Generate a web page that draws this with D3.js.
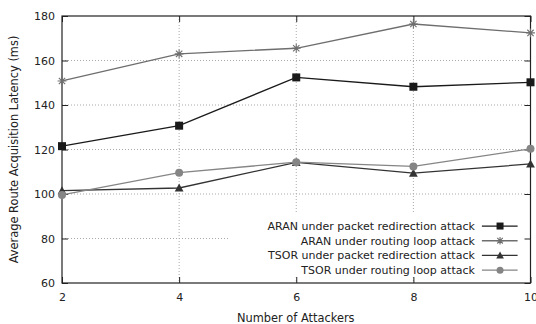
<!DOCTYPE html>
<html>
<head>
<meta charset="utf-8">
<script src="https://cdn.jsdelivr.net/npm/d3@7"></script>
<style>
  body { margin: 0; background: #fff; }
  text { font-family: "DejaVu Sans", sans-serif; fill: #222; }
</style>
</head>
<body>
<svg id="chart" width="536" height="324"></svg>
<script>
// data
var attackers = [2, 4, 6, 8, 10];
var aranPacket = [121.5, 130.7, 152.4, 148.2, 150.2];
var aranLoop = [150.8, 163, 165.5, 176.4, 172.4];
var tsorPacket = [101.5, 102.7, 114.2, 109.4, 113.5];
var tsorLoop = [99.6, 109.6, 114.3, 112.4, 120.3];
var yTicks = [60, 80, 100, 120, 140, 160, 180];

var seriesNames = [
  'ARAN under packet redirection attack',
  'ARAN under routing loop attack',
  'TSOR under packet redirection attack',
  'TSOR under routing loop attack'
];

var series = [
  { name: seriesNames[0], values: aranPacket, color: '#1a1a1a', marker: 'square' },
  { name: seriesNames[1], values: aranLoop, color: '#6e6e6e', marker: 'star' },
  { name: seriesNames[2], values: tsorPacket, color: '#333333', marker: 'triangle' },
  { name: seriesNames[3], values: tsorLoop, color: '#858585', marker: 'circle' }
];

var svg = d3.select('#chart');
var margin = {top: 16, right: 5.5, bottom: 41, left: 62};
var width = 536 - margin.left - margin.right,
    height = 324 - margin.top - margin.bottom;

var g = svg.append('g')
    .attr('transform', 'translate(' + margin.left + ',' + margin.top + ')');

var x = d3.scaleLinear().domain([2, 10]).range([0, width]);
var y = d3.scaleLinear().domain([60, 180]).range([height, 0]);

// grid
g.append('g').selectAll('line.vg')
  .data(attackers.slice(1, -1))
  .enter().append('line')
  .attr('x1', d => x(d)).attr('x2', d => x(d))
  .attr('y1', 0).attr('y2', height)
  .attr('stroke', '#aaa').attr('stroke-width', 1)
  .attr('stroke-dasharray', '1,2');

g.append('g').selectAll('line.hg')
  .data(yTicks.slice(1, -1))
  .enter().append('line')
  .attr('x1', 0).attr('x2', width)
  .attr('y1', d => y(d)).attr('y2', d => y(d))
  .attr('stroke', '#aaa').attr('stroke-width', 1)
  .attr('stroke-dasharray', '1,2');

// legend background hides grid
var legX = x(4.86), legY = y(91.5);
g.append('rect')
  .attr('x', legX).attr('y', legY)
  .attr('width', width - legX).attr('height', y(63) - legY)
  .attr('fill', '#fff');

// axes (ticks inward, mirrored)
function styleAxis(sel) {
  sel.select('.domain').remove();
  sel.selectAll('line').attr('stroke', '#222');
  sel.selectAll('text').style('font-size', '11px').attr('fill', '#222');
}

g.append('g')
  .attr('transform', 'translate(0,' + height + ')')
  .call(d3.axisBottom(x).tickValues(attackers).tickSizeInner(-6).tickPadding(10))
  .call(styleAxis);

g.append('g')
  .call(d3.axisTop(x).tickValues(attackers).tickSizeInner(-6).tickFormat(''))
  .call(styleAxis);

g.append('g')
  .call(d3.axisLeft(y).tickValues(yTicks).tickSizeInner(-6).tickPadding(7))
  .call(styleAxis);

g.append('g')
  .attr('transform', 'translate(' + width + ',0)')
  .call(d3.axisRight(y).tickValues(yTicks).tickSizeInner(-6).tickFormat(''))
  .call(styleAxis);

// frame
g.append('rect')
  .attr('width', width).attr('height', height)
  .attr('fill', 'none').attr('stroke', '#222').attr('stroke-width', 1.2);

// markers
function drawMarker(sel, type, color, s) {
  if (type === 'square') {
    sel.append('rect').attr('x', -s / 2).attr('y', -s / 2).attr('width', s).attr('height', s)
      .attr('fill', color);
  } else if (type === 'circle') {
    sel.append('circle').attr('r', s / 2).attr('fill', color);
  } else if (type === 'triangle') {
    sel.append('path')
      .attr('d', 'M0,' + (-s * 0.55) + 'L' + (s * 0.55) + ',' + (s * 0.45) + 'L' + (-s * 0.55) + ',' + (s * 0.45) + 'Z')
      .attr('fill', color);
  } else {
    var r = s * 0.55, q = r * 0.72;
    sel.append('path')
      .attr('d', 'M' + (-r) + ',0L' + r + ',0M0,' + (-r) + 'L0,' + r +
        'M' + (-q) + ',' + (-q) + 'L' + q + ',' + q + 'M' + (-q) + ',' + q + 'L' + q + ',' + (-q))
      .attr('stroke', color).attr('stroke-width', 1.1).attr('fill', 'none');
  }
}

var line = d3.line()
  .x((d, i) => x(attackers[i]))
  .y(d => y(d));

series.forEach(function(s) {
  g.append('path')
    .datum(s.values)
    .attr('d', line)
    .attr('fill', 'none')
    .attr('stroke', s.color)
    .attr('stroke-width', 1.3);

  g.selectAll(null)
    .data(s.values)
    .enter().append('g')
    .attr('transform', (d, i) => 'translate(' + x(attackers[i]) + ',' + y(d) + ')')
    .each(function() { drawMarker(d3.select(this), s.marker, s.color, 8); });
});

// legend
var legend = g.append('g');
series.forEach(function(s, i) {
  var ly = y(85.6) + i * 14.7;
  var row = legend.append('g').attr('transform', 'translate(0,' + ly + ')');
  row.append('text')
    .attr('x', x(9.05)).attr('y', 0).attr('dy', '0.35em')
    .attr('text-anchor', 'end')
    .style('font-size', '11px')
    .text(s.name);
  row.append('line')
    .attr('x1', x(9.17)).attr('x2', x(9.78))
    .attr('stroke', s.color).attr('stroke-width', 1.3);
  var m = row.append('g').attr('transform', 'translate(' + x(9.48) + ',0)');
  drawMarker(m, s.marker, s.color, 7);
});

// axis titles
svg.append('text')
  .attr('x', margin.left + width / 2 - 0.5)
  .attr('y', 321.5)
  .attr('text-anchor', 'middle')
  .style('font-size', '11.4px')
  .text('Number of Attackers');

svg.append('text')
  .attr('transform', 'translate(18,' + (margin.top + height / 2) + ') rotate(-90)')
  .attr('text-anchor', 'middle')
  .style('font-size', '11.4px')
  .text('Average Route Acquisition Latency (ms)');
</script>
</body>
</html>
